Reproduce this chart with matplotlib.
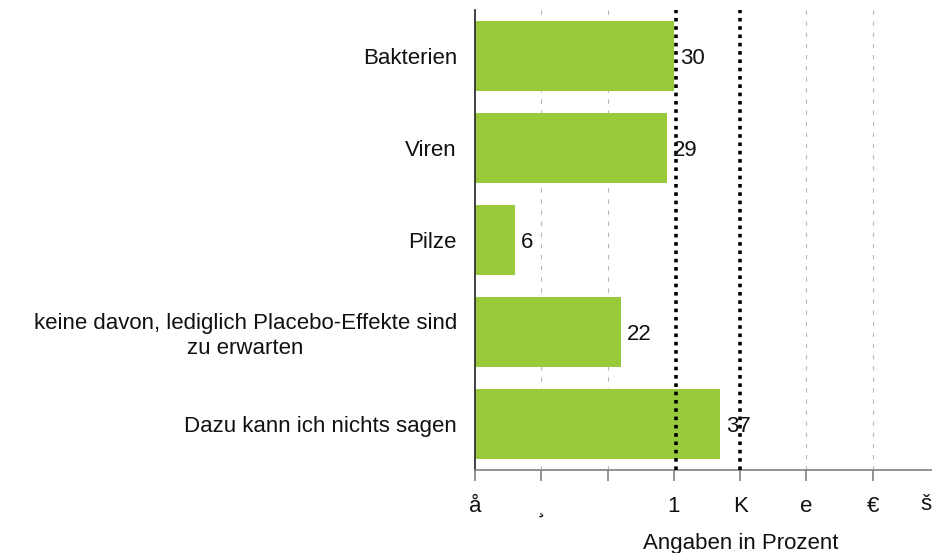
import matplotlib
matplotlib.use("Agg")
import matplotlib.pyplot as plt

categories = ["Bakterien", "Viren", "Pilze",
              "keine davon, lediglich Placebo-Effekte sind\nzu erwarten",
              "Dazu kann ich nichts sagen"]
values = [30, 29, 6, 22, 37]
tick_values = [0, 10, 20, 30, 40, 50, 60]
tick_labels = ["å", "¸", "", "1", "K", "e", "€"]
last_tick_label = "š"
grid_values = [10, 20, 50, 60]
ref_lines = [30.3, 40]
xlabel = "Angaben in Prozent"

plt.rcParams['font.family'] = ['Liberation Sans', 'DejaVu Sans']

W, H = 932, 553
px_per_unit = (939 - 475) / 70
fig = plt.figure(figsize=(W / 100, H / 100), dpi=100)
ax = fig.add_axes([475 / W, 83 / H, (932 - 475) / W, (470 - 10) / H])

bar_color = "#99CA3C"
y = list(range(len(categories)))
ax.barh(y, values, height=0.77, color=bar_color, zorder=2)

for gv in grid_values:
    ax.axvline(gv, color="#b8b8b8", lw=0.8, ls=(0, (4, 6)), zorder=1)
for rv in ref_lines:
    ax.axvline(rv, color="black", lw=2.6, ls=(0, (1, 1.3)), zorder=3)

for yi, v in zip(y, values):
    ax.text(v + 0.9, yi, str(v), va="center_baseline", ha="left", fontsize=16,
            color="#111111", zorder=4)

ax.set_xlim(0, (932 - 475) / px_per_unit)
ax.set_ylim(len(categories) - 0.5, -0.5)
ax.set_xticks(tick_values)
ax.set_xticklabels(tick_labels, fontsize=16, color="#111111")
ax.set_yticks(y)
ax.set_yticklabels(categories, fontsize=16, color="#111111", multialignment="center")
ax.tick_params(axis="y", length=0, pad=13)
ax.tick_params(axis="x", direction="out", length=8, width=1.2, color="#808080", pad=11)

for s in ["top", "right"]:
    ax.spines[s].set_visible(False)
ax.spines["left"].set_color("#333333")
ax.spines["left"].set_linewidth(1.3)
ax.spines["bottom"].set_color("#808080")
ax.spines["bottom"].set_linewidth(1.2)

for lbl in ax.get_yticklabels():
    lbl.set_linespacing(1.2)

# last tick label sits at the right figure edge
fig.text(931 / W, 1 - 504 / H, last_tick_label, ha="right", va="center",
         fontsize=16, color="#111111")

fig.text(741 / W, 1 - 543 / H, xlabel, ha="center", va="center", fontsize=16,
         color="#111111")

fig.savefig("out.png", dpi=100)
